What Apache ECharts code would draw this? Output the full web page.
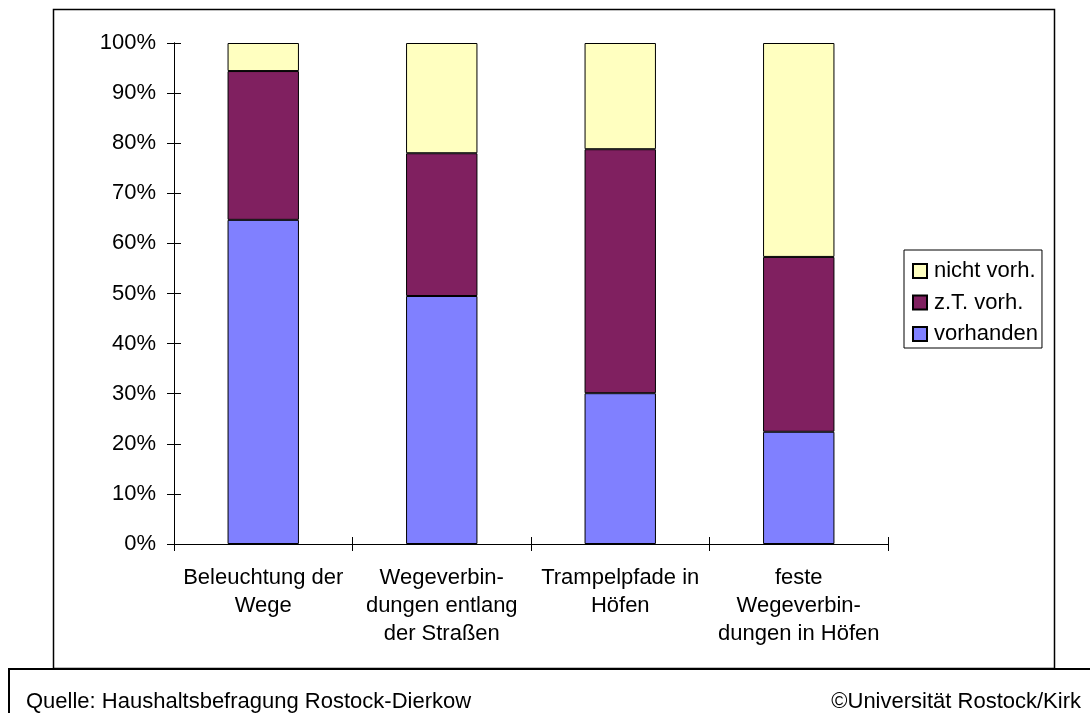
<!DOCTYPE html>
<html><head><meta charset="utf-8">
<script src="https://cdn.jsdelivr.net/npm/echarts@6/dist/echarts.min.js"></script>
<style>html,body{margin:0;padding:0;background:#fff}#c{width:1090px;height:713px}</style>
</head><body><div id="c"></div>
<script>
const categories = ['Beleuchtung der\nWege', 'Wegeverbin-\ndungen entlang\nder Straßen', 'Trampelpfade in\nHöfen', 'feste\nWegeverbin-\ndungen in Höfen'];
const vorhanden = [64.7, 49.5, 30.1, 22.4];
const zTvorh = [29.7, 28.5, 48.7, 34.9];
const nichtVorh = [5.6, 22.0, 21.2, 42.7];
const yTicks = [0, 10, 20, 30, 40, 50, 60, 70, 80, 90, 100];

const font = 'Liberation Sans, Arial, sans-serif';
const FS = 22;
const chart = echarts.init(document.getElementById('c'), null, {renderer: 'canvas'});
const barStyle = c => ({color: c, borderColor: '#000', borderWidth: 1});
chart.setOption({
  animation: false,
  backgroundColor: '#fff',
  grid: {left: 174, right: 202, top: 43, bottom: 169},
  legend: {
    orient: 'vertical', left: 904, top: 250,
    data: ['nicht vorh.', 'z.T. vorh.', 'vorhanden'],
    icon: 'rect', itemWidth: 14, itemHeight: 14, itemGap: 9.5,
    padding: [10, 4, 3, 8],
    borderColor: '#000', borderWidth: 1,
    textStyle: {fontFamily: font, fontSize: FS, color: '#000', padding: [0, 0, 0, 2]}
  },
  xAxis: [{
    type: 'category', data: categories,
    axisLine: {show: true, onZero: false, lineStyle: {color: '#000', width: 1}},
    axisTick: {show: true, length: 7, alignWithLabel: false, lineStyle: {color: '#000'}},
    axisLabel: {fontFamily: font, fontSize: FS, color: '#000', lineHeight: 28, margin: 20, interval: 0}
  }, {
    type: 'category', data: categories, position: 'bottom',
    axisLine: {show: true, onZero: false, lineStyle: {color: '#000', width: 1}},
    axisTick: {show: true, inside: true, length: 7, lineStyle: {color: '#000'}},
    axisLabel: {show: true, color: 'rgba(0,0,0,0)', fontSize: 6, interval: 0}
  }],
  yAxis: [{
    type: 'value', min: 0, max: 100, interval: 10,
    splitLine: {show: false},
    axisLine: {show: true, onZero: false, lineStyle: {color: '#000', width: 1}},
    axisTick: {show: true, length: 7, lineStyle: {color: '#000'}},
    axisLabel: {fontFamily: font, fontSize: FS, color: '#000', margin: 18,
      formatter: v => yTicks.includes(v) ? v + '%' : ''}
  }, {
    type: 'value', min: 0, max: 100, interval: 10, position: 'left',
    splitLine: {show: false},
    axisLine: {show: true, onZero: false, lineStyle: {color: '#000', width: 1}},
    axisTick: {show: true, inside: true, length: 7, lineStyle: {color: '#000'}},
    axisLabel: {show: true, color: 'rgba(0,0,0,0)', fontSize: 6}
  }],
  series: [
    {name: 'vorhanden', type: 'bar', stack: 's', data: vorhanden, barWidth: '40%', itemStyle: barStyle('#8080FF')},
    {name: 'z.T. vorh.', type: 'bar', stack: 's', data: zTvorh, barWidth: '40%', itemStyle: barStyle('#802060')},
    {name: 'nicht vorh.', type: 'bar', stack: 's', data: nichtVorh, barWidth: '40%', itemStyle: barStyle('#FFFFC0')}
  ],
  graphic: [
    {type: 'rect', shape: {x: 53.5, y: 9.5, width: 1001, height: 659}, style: {fill: null, stroke: '#000', lineWidth: 1.5}, z: 10},
    {type: 'polyline', shape: {points: [[9, 713], [9, 669], [1090, 669]]}, style: {fill: null, stroke: '#000', lineWidth: 2}, z: 11},
    {type: 'rect', shape: {x: 10, y: 670, width: 1080, height: 43}, style: {fill: '#fff'}, z: 9},
    {type: 'text', left: 26, top: 691, style: {text: 'Quelle: Haushaltsbefragung Rostock-Dierkow', font: FS + 'px ' + font, fill: '#000'}, z: 12},
    {type: 'text', right: 9, top: 691, style: {text: '©Universität Rostock/Kirk', font: FS + 'px ' + font, fill: '#000'}, z: 12}
  ]
});
</script></body></html>
